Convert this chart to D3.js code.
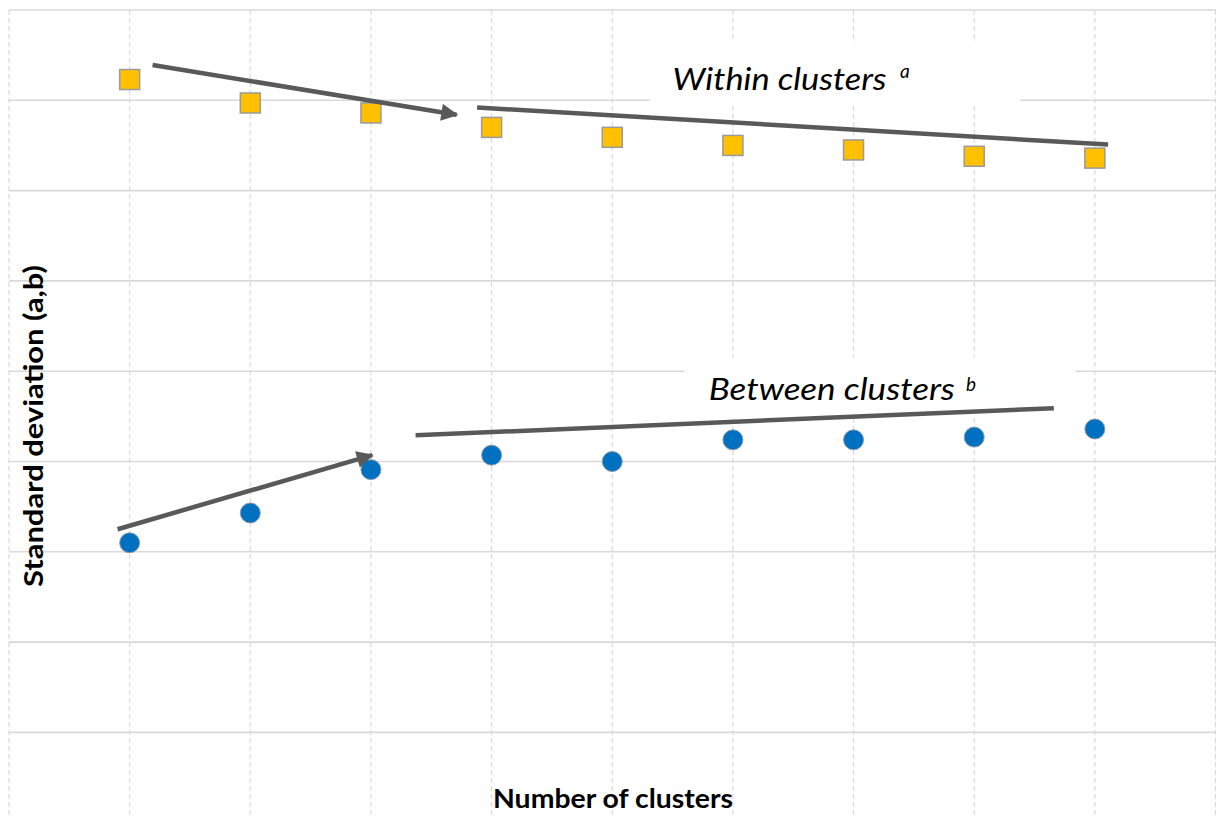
<!DOCTYPE html>
<html>
<head>
<meta charset="utf-8">
<script src="https://cdn.jsdelivr.net/npm/d3@7"></script>
<style>
  html, body { margin: 0; padding: 0; background: #fff; }
  svg { display: block; }
</style>
</head>
<body>
<svg id="chart" width="1216" height="818"></svg>
<script>
// ---- data ----
const categories = [2, 3, 4, 5, 6, 7, 8, 9, 10];
const withinValues = [8.23, 7.97, 7.86, 7.70, 7.59, 7.50, 7.45, 7.38, 7.36];
const betweenValues = [3.10, 3.43, 3.91, 4.07, 4.00, 4.24, 4.24, 4.27, 4.36];
const yTicks = [1, 2, 3, 4, 5, 6, 7, 8, 9];
const xTicks = [1, 2, 3, 4, 5, 6, 7, 8, 9, 10, 11];
// annotation trend arrows/lines in data units [x1, y1, x2, y2, hasArrow]
const trendLines = [
  [2.19, 8.39, 4.71, 7.84, true],
  [4.88, 7.92, 10.11, 7.51, false],
  [1.90, 3.25, 4.01, 4.07, true],
  [4.37, 4.29, 9.66, 4.59, false]
];
const labelTexts = ["Within clusters", "Between clusters"];
const labelSups = ["a", "b"];

// ---- scales ----
const svg = d3.select("#chart");
const x = d3.scaleLinear().domain([1, 11]).range([9, 1215.5]);
const y = d3.scaleLinear().domain([0, 9]).range([822.7, 10]);

const gridColor = "#d9d9d9";

// horizontal gridlines
svg.append("g").selectAll("line").data(yTicks).join("line")
  .attr("x1", x(1)).attr("x2", 1216)
  .attr("y1", d => y(d)).attr("y2", d => y(d))
  .attr("stroke", gridColor).attr("stroke-width", 1.6);

// vertical dashed gridlines
svg.append("g").selectAll("line").data(xTicks).join("line")
  .attr("x1", d => x(d)).attr("x2", d => x(d))
  .attr("y1", y(9)).attr("y2", 818)
  .attr("stroke", gridColor).attr("stroke-width", 1.2)
  .attr("stroke-dasharray", "5,3");

// white label boxes
const boxes = [[6.31, 8.64, 9.38, 7.94], [6.60, 5.15, 9.84, 4.50]];
svg.append("g").selectAll("rect").data(boxes).join("rect")
  .attr("x", d => x(d[0])).attr("y", d => y(d[1]))
  .attr("width", d => x(d[2]) - x(d[0])).attr("height", d => y(d[3]) - y(d[1]))
  .attr("fill", "#fff");

// markers: within (squares)
const s = 20;
svg.append("g").selectAll("rect").data(categories).join("rect")
  .attr("x", (d, i) => x(d) - s / 2)
  .attr("y", (d, i) => y(withinValues[i]) - s / 2)
  .attr("width", s).attr("height", s)
  .attr("fill", "#FFC000").attr("stroke", "#9a9a9a").attr("stroke-width", 1.5);

// markers: between (circles)
svg.append("g").selectAll("circle").data(categories).join("circle")
  .attr("cx", d => x(d))
  .attr("cy", (d, i) => y(betweenValues[i]))
  .attr("r", 10)
  .attr("fill", "#0070C0").attr("stroke", "#8a9aaa").attr("stroke-width", 1);

// arrow marker
const defs = svg.append("defs");
defs.append("marker")
  .attr("id", "arrowhead")
  .attr("viewBox", "0 0 10 10")
  .attr("refX", 9).attr("refY", 5)
  .attr("markerUnits", "userSpaceOnUse")
  .attr("markerWidth", 18).attr("markerHeight", 17)
  .attr("orient", "auto")
  .append("path").attr("d", "M0,0 L10,5 L0,10 Z").attr("fill", "#595959");

// trend lines
svg.append("g").selectAll("line").data(trendLines).join("line")
  .attr("x1", d => x(d[0])).attr("y1", d => y(d[1]))
  .attr("x2", d => x(d[2])).attr("y2", d => y(d[3]))
  .attr("stroke", "#595959").attr("stroke-width", 4.5)
  .attr("marker-end", d => d[4] ? "url(#arrowhead)" : null);

// series labels
const labelPos = [[6.50, 8.11, 214], [6.80, 4.68, 246]];
const supPos = [[900, 78], [966, 391]];
labelTexts.forEach((t, i) => {
  svg.append("text")
    .attr("x", x(labelPos[i][0])).attr("y", y(labelPos[i][1]))
    .attr("font-family", "Lato, 'Open Sans', sans-serif")
    .attr("font-style", "italic")
    .attr("font-size", 31)
    .attr("textLength", labelPos[i][2])
    .attr("lengthAdjust", "spacingAndGlyphs")
    .attr("fill", "#000")
    .text(t);
  svg.append("text")
    .attr("x", supPos[i][0]).attr("y", supPos[i][1])
    .attr("font-family", "Lato, 'Open Sans', sans-serif")
    .attr("font-style", "italic")
    .attr("font-size", 19)
    .attr("fill", "#000")
    .text(labelSups[i]);
});

// axis titles
svg.append("text")
  .attr("transform", "translate(43,426) rotate(-90)")
  .attr("text-anchor", "middle")
  .attr("font-family", "Lato, 'Open Sans', sans-serif")
  .attr("font-weight", "bold")
  .attr("font-size", 26)
  .attr("textLength", 322)
  .attr("lengthAdjust", "spacingAndGlyphs")
  .text("Standard deviation (a,b)");

svg.append("text")
  .attr("x", 613).attr("y", 808)
  .attr("text-anchor", "middle")
  .attr("font-family", "Lato, 'Open Sans', sans-serif")
  .attr("font-weight", "bold")
  .attr("font-size", 27)
  .attr("textLength", 240)
  .attr("lengthAdjust", "spacingAndGlyphs")
  .text("Number of clusters");
</script>
</body>
</html>
